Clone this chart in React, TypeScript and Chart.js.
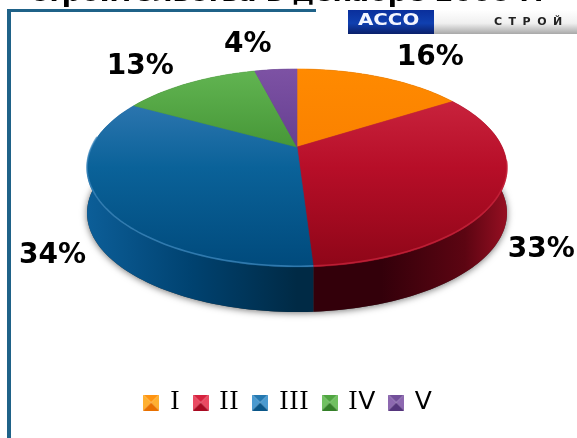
import React, { useEffect, useRef } from "react";
import { Chart, registerables } from "chart.js";

Chart.register(...registerables);

const categories = ["I", "II", "III", "IV", "V"];
const shares = [16, 33, 34, 13, 4];
const titleText = "строительства в декабре 2008 г.";
const logoLeft = "АССО";
const logoRight = "СТРОЙ";

// [upper, middle, lower] tones of each slice's top face
const faceTones = [
  ["#ff8a00", "#f97f00", "#e26c00"],
  ["#d02c46", "#b70e28", "#8e0618"],
  ["#3f80bb", "#0a6299", "#004a7c"],
  ["#62b552", "#3f8f30", "#2f7a24"],
  ["#7d52a4", "#5f3a8c", "#4e2c78"],
];
// [outer edge, centre] tones of each slice's side wall
const wallTones = [
  ["#c05a00", "#7a3800"],
  ["#960f22", "#33000a"],
  ["#0c5e98", "#002a45"],
  ["#2f7a24", "#1c4d16"],
  ["#4e2c78", "#2f1a4a"],
];
const rimTones = ["#ff9a20", "#c9263e", "#3f88bd", "#62b552", "#7d52a4"];
const markerTones = [
  ["#ffb030", "#ff9410", "#e87000"],
  ["#ea4a62", "#d6223e", "#a80a22"],
  ["#4a9ad0", "#2478b0", "#0a5688"],
  ["#70c060", "#4fa540", "#347f28"],
  ["#8d68b0", "#73509a", "#55357c"],
];
// Label displacement from the slice's rim point
const labelShift = [
  [50, -19],
  [42, 55],
  [-49, 52],
  [-49, -16],
  [-28, -25],
];

// The disc is a tilted circle, so the centre sits behind the ellipse's middle
const APEX_X = 297;
const APEX_Y = 147;
const SPREAD_X = 205.2;
const SPREAD_Y = 63.4;
const TILT = -0.212;
const DEPTH = 45;

function project(a: number): [number, number] {
  const d = 1 + TILT * Math.sin(a);
  return [APEX_X + (SPREAD_X * Math.cos(a)) / d, (APEX_Y + SPREAD_Y * Math.sin(a)) / d];
}

function rimPoints(start: number, end: number): [number, number][] {
  const n = Math.max(4, Math.ceil(Math.abs(end - start) * 40));
  const pts: [number, number][] = [];
  for (let i = 0; i <= n; i++) pts.push(project(start + ((end - start) * i) / n));
  return pts;
}

function makeMarker(tones: string[]): HTMLCanvasElement {
  const c = document.createElement("canvas");
  c.width = 16;
  c.height = 16;
  const g = c.getContext("2d")!;
  const tri = (col: string, x1: number, y1: number, x2: number, y2: number) => {
    g.fillStyle = col;
    g.beginPath();
    g.moveTo(x1, y1);
    g.lineTo(x2, y2);
    g.lineTo(8, 8);
    g.closePath();
    g.fill();
  };
  tri(tones[1], 0, 0, 16, 0);
  tri(tones[0], 0, 0, 0, 16);
  tri(tones[0], 16, 0, 16, 16);
  tri(tones[2], 0, 16, 16, 16);
  return c;
}

const discPlugin = {
  id: "tiltedDisc",
  beforeDraw(chart: any) {
    const { ctx, width } = chart;
    ctx.save();
    ctx.fillStyle = "#ffffff";
    ctx.fillRect(0, 0, width, chart.height);
    // heading, running off the top of the page
    ctx.fillStyle = "#000000";
    ctx.font = 'bold 27px "DejaVu Sans"';
    ctx.textAlign = "center";
    ctx.textBaseline = "alphabetic";
    ctx.fillText(titleText, 287, 1);
    // frame
    ctx.fillStyle = "#1f6288";
    ctx.fillRect(7, 9, 309, 3);
    ctx.fillRect(7, 9, 4, chart.height - 9);
    // logo strip
    const blue = ctx.createLinearGradient(0, 10, 0, 34);
    blue.addColorStop(0, "#0a2f9c");
    blue.addColorStop(0.55, "#1040b0");
    blue.addColorStop(1, "#0a1f6a");
    ctx.fillStyle = blue;
    ctx.fillRect(348, 10, 86, 24);
    const grey = ctx.createLinearGradient(0, 10, 0, 34);
    grey.addColorStop(0, "#ffffff");
    grey.addColorStop(0.55, "#f0f0f0");
    grey.addColorStop(1, "#a8a8a8");
    ctx.fillStyle = grey;
    ctx.fillRect(434, 10, 143, 24);
    ctx.textBaseline = "middle";
    ctx.textAlign = "left";
    ctx.fillStyle = "#f4f6ff";
    ctx.font = 'bold 15px "DejaVu Sans"';
    ctx.save();
    ctx.translate(358, 21);
    ctx.scale(1.32, 1);
    ctx.fillText(logoLeft, 0, 0);
    ctx.restore();
    ctx.fillStyle = "#222222";
    ctx.font = 'bold 11px "DejaVu Sans"';
    ctx.letterSpacing = "6.5px";
    ctx.fillText(logoRight, 494, 22);
    ctx.letterSpacing = "0px";
    ctx.restore();
  },
  beforeDatasetDraw(chart: any) {
    const { ctx } = chart;
    const arcs = chart.getDatasetMeta(0).data;
    ctx.save();
    // soft ground shadow under the whole disc
    const whole = rimPoints(0, Math.PI * 2);
    ctx.save();
    ctx.shadowColor = "rgba(0,0,0,0.55)";
    ctx.shadowBlur = 7;
    ctx.shadowOffsetY = 1;
    ctx.fillStyle = "#404040";
    ctx.beginPath();
    whole.forEach(([x, y], i) => (i ? ctx.lineTo(x, y + DEPTH) : ctx.moveTo(x, y + DEPTH)));
    ctx.closePath();
    ctx.fill();
    ctx.restore();
    // side walls
    arcs.forEach((arc: any, i: number) => {
      const pts = rimPoints(arc.startAngle, arc.endAngle);
      const g = ctx.createLinearGradient(APEX_X - 210, 0, APEX_X + 210, 0);
      g.addColorStop(0, wallTones[i][0]);
      g.addColorStop(0.25, i === 1 ? wallTones[i][1] : "#004270");
      g.addColorStop(0.5, wallTones[i][1]);
      g.addColorStop(0.7, wallTones[i][1]);
      g.addColorStop(0.9, i === 1 ? "#5c0512" : wallTones[i][0]);
      g.addColorStop(1, wallTones[i][0]);
      ctx.fillStyle = i === 1 || i === 2 ? g : wallTones[i][1];
      ctx.beginPath();
      pts.forEach(([x, y], k) => (k ? ctx.lineTo(x, y) : ctx.moveTo(x, y)));
      [...pts].reverse().forEach(([x, y]) => ctx.lineTo(x, y + DEPTH));
      ctx.closePath();
      ctx.fill();
    });
    // top faces
    arcs.forEach((arc: any, i: number) => {
      const pts = rimPoints(arc.startAngle, arc.endAngle);
      const g = ctx.createLinearGradient(0, 69, 0, 267);
      g.addColorStop(0, faceTones[i][0]);
      g.addColorStop(0.5, faceTones[i][1]);
      g.addColorStop(1, faceTones[i][2]);
      ctx.fillStyle = g;
      ctx.strokeStyle = g;
      ctx.lineWidth = 0.6;
      ctx.beginPath();
      ctx.moveTo(APEX_X, APEX_Y);
      pts.forEach(([x, y]) => ctx.lineTo(x, y));
      ctx.closePath();
      ctx.fill();
      ctx.stroke();
    });
    // pale rim along the near edge
    arcs.forEach((arc: any, i: number) => {
      const from = Math.max(arc.startAngle, 0.15);
      const to = Math.min(arc.endAngle, Math.PI - 0.15);
      const a0 = i === 2 ? arc.startAngle : from;
      const a1 = i === 2 ? Math.min(arc.endAngle, Math.PI + 0.1) : to;
      if (a1 <= a0) return;
      const pts = rimPoints(a0, a1);
      ctx.strokeStyle = rimTones[i];
      ctx.globalAlpha = 0.75;
      ctx.lineWidth = 1.6;
      ctx.beginPath();
      pts.forEach(([x, y], k) => (k ? ctx.lineTo(x, y - 0.8) : ctx.moveTo(x, y - 0.8)));
      ctx.stroke();
      ctx.globalAlpha = 1;
    });
    ctx.restore();
    return false;
  },
  afterDatasetsDraw(chart: any) {
    const { ctx } = chart;
    ctx.save();
    ctx.fillStyle = "#000000";
    ctx.font = 'bold 28px "DejaVu Sans"';
    ctx.textAlign = "center";
    ctx.textBaseline = "middle";
    chart.getDatasetMeta(0).data.forEach((arc: any, i: number) => {
      const [x, y] = project((arc.startAngle + arc.endAngle) / 2);
      ctx.fillText(`${shares[i]}%`, x + labelShift[i][0], y + labelShift[i][1]);
    });
    ctx.restore();
  },
};

export default function App() {
  const ref = useRef<HTMLCanvasElement>(null);
  useEffect(() => {
    document.body.style.margin = "0";
    const chart = new Chart(ref.current!, {
      type: "pie",
      data: {
        labels: categories,
        datasets: [{ data: shares, backgroundColor: faceTones.map((t) => t[1]), borderWidth: 0 }],
      },
      options: {
        responsive: false,
        animation: false,
        layout: { padding: { bottom: 13 } },
        plugins: {
          tooltip: { enabled: false },
          legend: {
            position: "bottom",
            labels: {
              usePointStyle: true,
              boxWidth: 12,
              padding: 15,
              color: "#000000",
              font: { family: 'LegendRoman, "DejaVu Sans"', size: 25 },
              generateLabels: () =>
                categories.map((text, i) => ({
                  text,
                  pointStyle: makeMarker(markerTones[i]),
                  fillStyle: faceTones[i][1],
                  strokeStyle: "transparent",
                  lineWidth: 0,
                  hidden: false,
                  index: i,
                })),
            },
          },
        },
      },
      plugins: [discPlugin],
    });
    // The Roman numeral I carries slab serifs while V stays plain
    const face = new FontFace("LegendRoman", 'local("DejaVu Serif")', { unicodeRange: "U+49" });
    let alive = true;
    face
      .load()
      .then((f) => {
        document.fonts.add(f);
        if (alive) chart.update();
      })
      .catch(() => undefined);
    return () => {
      alive = false;
      chart.destroy();
    };
  }, []);
  return <canvas ref={ref} width={577} height={438} style={{ display: "block" }} />;
}
